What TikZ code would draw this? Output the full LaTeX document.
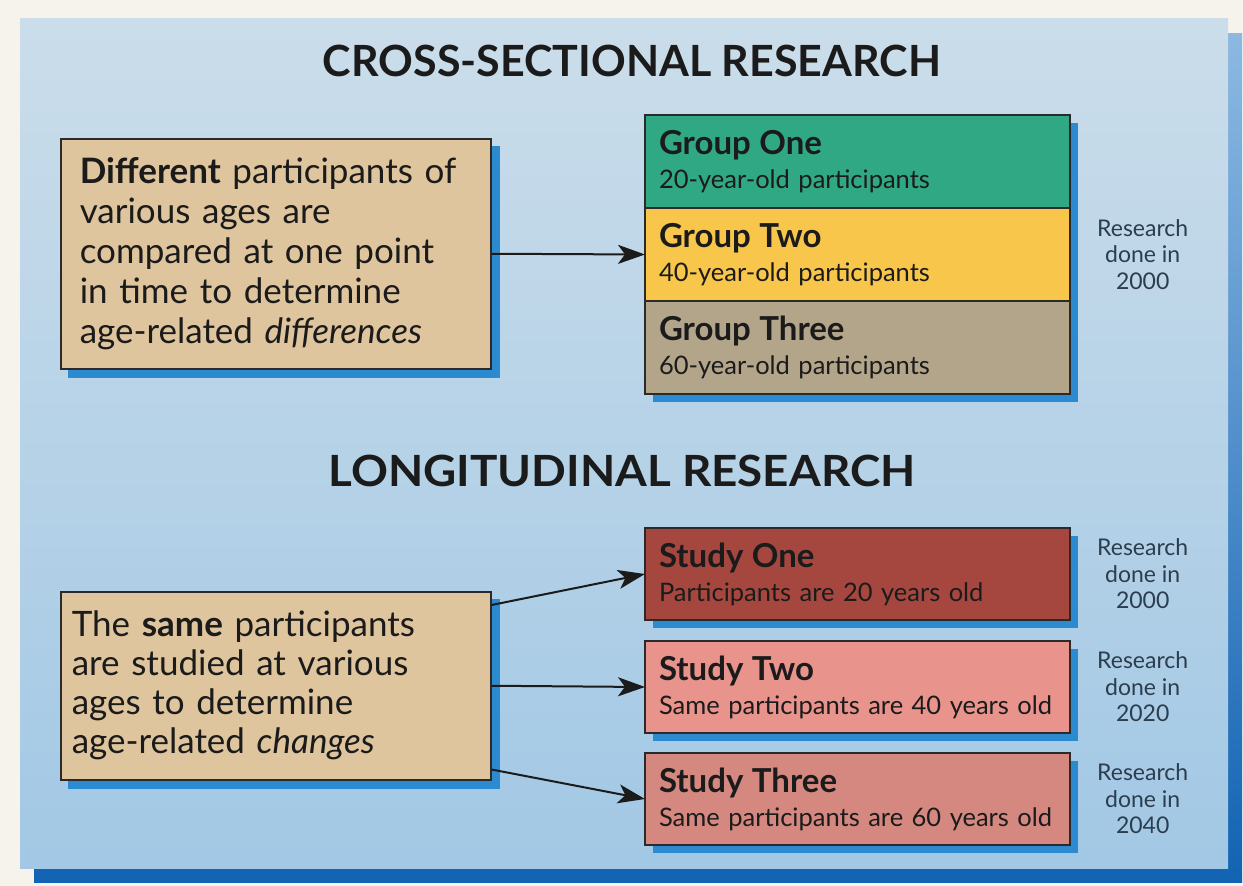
\documentclass[tikz,border=0pt]{standalone}
\usepackage{fontspec}
\setmainfont{Lato}
\usepackage{tikz}
\usetikzlibrary{positioning,arrows.meta,backgrounds,calc}

\definecolor{bgcream}{HTML}{F6F2EC}
\definecolor{paneltop}{HTML}{CBDDEA}
\definecolor{panelbot}{HTML}{A2C8E5}
\definecolor{frametop}{HTML}{8CB9E2}
\definecolor{framebot}{HTML}{1263B3}
\definecolor{tanfill}{HTML}{DFC59D}
\definecolor{grpone}{HTML}{2FA883}
\definecolor{grptwo}{HTML}{F7C64A}
\definecolor{grpthree}{HTML}{B3A58A}
\definecolor{stdone}{HTML}{A6473F}
\definecolor{stdtwo}{HTML}{E8938B}
\definecolor{stdthree}{HTML}{D4887F}
\definecolor{boxshadow}{HTML}{2B8AD0}
\definecolor{edge}{HTML}{2A2A2A}
\definecolor{ink}{HTML}{1B1B1B}
\definecolor{dateink}{HTML}{2C3D4D}

\begin{document}
\begin{tikzpicture}[x=1pt, y=-1pt]
\tikzstyle{hdr}=[font=\fontsize{43}{43}\selectfont\bfseries, text=ink, inner sep=0]
\tikzstyle{tanbox}=[draw=edge, line width=1.5pt, fill=tanfill, anchor=north west,
                    align=left, text=ink, font=\fontsize{35}{40}\selectfont]
\tikzstyle{grpbox}=[draw=edge, line width=1.5pt, outer sep=0, minimum height=93pt,
                    text width=397pt, inner xsep=14pt, align=left, anchor=north west,
                    text=ink, font=\fontsize{25.5}{34}\selectfont]
\tikzstyle{datelbl}=[align=center, inner sep=0, text=dateink, font=\fontsize{23}{26.5}\selectfont]
\tikzstyle{tipline}=[draw=ink, line width=2pt, -{Stealth[length=27pt, width=19pt, inset=7pt]}]
\newcommand{\boxttl}[1]{{\fontsize{33}{34}\selectfont\bfseries #1}}
\useasboundingbox (0,0) rectangle (1243,886);

\node[hdr] (crosshdr) at (632,61) {CROSS-SECTIONAL RESEARCH};
\node[hdr] (longhdr) at (622,471) {\scalebox{1.064}[1]{LONGITUDINAL RESEARCH}};

\node[tanbox, minimum height=230pt, text width=392pt, inner xsep=19pt] (crossbox) at (60,138)
  {\textbf{Different} participants of\\various ages are\\compared at one point\\in time to determine\\age-related \emph{differences}};
\node[tanbox, minimum height=188pt, text width=408pt, inner xsep=11pt,
      font=\fontsize{35}{39}\selectfont] (longbox) at (60,591)
  {The \textbf{same} participants\\are studied at various\\ages to determine\\age-related \emph{changes}};

% groups
\node[grpbox, fill=grpone] (g1) at (645,115) {\boxttl{Group One}\\20-year-old participants};
\node[grpbox, fill=grptwo, below=0pt of g1] (g2) {\boxttl{Group Two}\\40-year-old participants};
\node[grpbox, fill=grpthree, below=0pt of g2] (g3) {\boxttl{Group Three}\\60-year-old participants};
\node[datelbl, right=27pt of g2] (d0) {Research\\done in\\2000};

% studies
\node[grpbox, fill=stdone, minimum height=92pt] (s1) at (645,528) {\boxttl{Study One}\\Participants are 20 years old};
\node[grpbox, fill=stdtwo, minimum height=92pt, below=21pt of s1] (s2) {\boxttl{Study Two}\\Same participants are 40 years old};
\node[grpbox, fill=stdthree, minimum height=92pt, below=20pt of s2] (s3) {\boxttl{Study Three}\\Same participants are 60 years old};
\node[datelbl, right=27pt of s1] (d1) {Research\\done in\\2000};
\node[datelbl, right=27pt of s2] (d2) {Research\\done in\\2020};
\node[datelbl, right=27pt of s3] (d3) {Research\\done in\\2040};

\coordinate (la) at ([yshift=-14pt]longbox.north east);
\coordinate (lc) at ([yshift=11pt]longbox.south east);
\foreach \i/\j in {crossbox.east/g2.west, la/s1.west, longbox.east/s2.west, lc/s3.west}{\draw[tipline] (\i) -- (\j);}

\begin{scope}[on background layer]
\fill[bgcream] (0,0) rectangle (1243,886);
\shade[top color=frametop, bottom color=framebot] (34,33) rectangle (1242,882);
\shade[top color=paneltop, bottom color=panelbot] (20,18) rectangle (1228,868);
\foreach \b in {crossbox,longbox,s1,s2,s3}{\fill[boxshadow] ([shift={(8,8)}]\b.north west) rectangle ([shift={(8,8)}]\b.south east);}
\fill[boxshadow] ([shift={(8,8)}]g1.north west) rectangle ([shift={(8,8)}]g3.south east);
\end{scope}
\end{tikzpicture}
\end{document}
